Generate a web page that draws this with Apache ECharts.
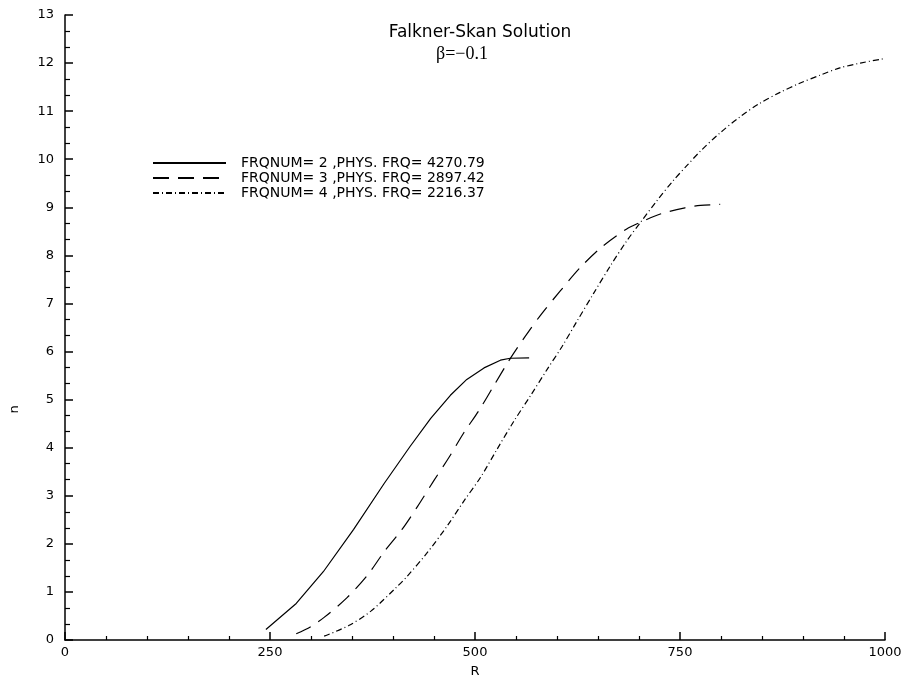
<!DOCTYPE html>
<html>
<head>
<meta charset="utf-8">
<script src="https://cdn.jsdelivr.net/npm/echarts@6/dist/echarts.min.js"></script>
<style>
html,body{margin:0;padding:0;background:#fff;}
#chart{width:907px;height:683px;}
</style>
</head>
<body>
<div id="chart"></div>
<script>
// Data
var seriesNames = [
  'FRQNUM= 2 ,PHYS. FRQ= 4270.79',
  'FRQNUM= 3 ,PHYS. FRQ= 2897.42',
  'FRQNUM= 4 ,PHYS. FRQ= 2216.37'
];
var r2 = [245, 282, 315, 352, 389, 421, 446, 470, 490, 511, 531, 543, 566];
var n2 = [0.22, 0.76, 1.42, 2.30, 3.25, 4.03, 4.61, 5.09, 5.42, 5.66, 5.82, 5.86, 5.87];
var r3 = [282, 300, 316, 344, 369, 389, 411, 430, 450, 468, 486, 505, 523, 541, 561, 581, 604, 628, 655, 685, 702, 726, 756, 775, 799];
var n3 = [0.13, 0.28, 0.47, 0.88, 1.35, 1.83, 2.30, 2.78, 3.32, 3.79, 4.30, 4.78, 5.29, 5.80, 6.31, 6.78, 7.26, 7.74, 8.18, 8.55, 8.69, 8.86, 8.99, 9.04, 9.06];
var r4 = [316, 346, 373, 405, 417, 441, 466, 486, 507, 527, 547, 568, 588, 606, 624, 645, 665, 685, 702, 722, 742, 758, 775, 799, 823, 847, 872, 896, 921, 945, 970, 998];
var n4 = [0.08, 0.30, 0.60, 1.11, 1.32, 1.80, 2.37, 2.88, 3.39, 3.97, 4.54, 5.09, 5.63, 6.10, 6.62, 7.22, 7.78, 8.30, 8.69, 9.14, 9.56, 9.86, 10.17, 10.55, 10.88, 11.16, 11.39, 11.58, 11.75, 11.90, 12.00, 12.09];

function zip(a, b) { return a.map(function (v, i) { return [v, b[i]]; }); }

var font = 'DejaVu Sans';
var chart = echarts.init(document.getElementById('chart'));
chart.setOption({
  backgroundColor: '#fff',
  animation: false,
  title: [
    { text: 'Falkner-Skan Solution', left: 475, top: 19, textAlign: 'center',
      textStyle: { fontFamily: font, fontSize: 17, fontWeight: 'normal', color: '#000' } },
    { text: 'β=−0.1', left: 457, top: 40, textAlign: 'center',
      textStyle: { fontFamily: 'Liberation Serif', fontSize: 18, fontWeight: 'normal', color: '#000' } }
  ],
  legend: {
    orient: 'vertical', left: 152, top: 156, padding: 0,
    itemWidth: 73, itemHeight: 12, itemGap: 1,
    itemStyle: { opacity: 0 },
    textStyle: { fontFamily: font, fontSize: 14, lineHeight: 12, color: '#000', padding: [0, 0, 0, 10] },
    data: seriesNames
  },
  grid: { left: 64, right: 22, top: 15, bottom: 30 },
  xAxis: {
    type: 'value', min: 0, max: 1000, interval: 250,
    name: 'R', nameLocation: 'middle', nameGap: 25,
    nameTextStyle: { fontFamily: font, fontSize: 13, color: '#000' },
    axisLine: { lineStyle: { color: '#000', width: 1.5 } },
    axisTick: { inside: true, length: 8, lineStyle: { color: '#000', width: 1.5 } },
    minorTick: { show: true, splitNumber: 5, length: 4, lineStyle: { color: '#000', width: 1.2 } },
    splitLine: { show: false },
    axisLabel: { margin: 6, fontFamily: font, fontSize: 13, color: '#000',
      formatter: function (v) { return String(v); } }
  },
  yAxis: {
    type: 'value', min: 0, max: 13, interval: 1,
    name: 'n', nameLocation: 'middle', nameGap: 44, nameRotate: 90,
    nameTextStyle: { fontFamily: font, fontSize: 13, color: '#000', padding: [0, 164, 0, 0] },
    axisLine: { show: true, lineStyle: { color: '#000', width: 1.5 } },
    axisTick: { inside: true, length: 8, lineStyle: { color: '#000', width: 1.5 } },
    minorTick: { show: true, splitNumber: 3, length: 5, lineStyle: { color: '#000', width: 1.2 } },
    splitLine: { show: false },
    axisLabel: { margin: 11, fontFamily: font, fontSize: 13, color: '#000' }
  },
  series: [
    { name: seriesNames[0], type: 'line', data: zip(r2, n2), symbol: 'none',
      lineStyle: { color: '#000', width: 1.2, type: 'solid' }, itemStyle: { color: '#000' } },
    { name: seriesNames[1], type: 'line', data: zip(r3, n3), symbol: 'none', smooth: 0.3,
      lineStyle: { color: '#000', width: 1.2, type: [16, 9] }, itemStyle: { color: '#000' } },
    { name: seriesNames[2], type: 'line', data: zip(r4, n4), symbol: 'none', smooth: 0.3,
      lineStyle: { color: '#000', width: 1.2, type: [6, 3, 1, 3] }, itemStyle: { color: '#000' } }
  ]
});
</script>
</body>
</html>
